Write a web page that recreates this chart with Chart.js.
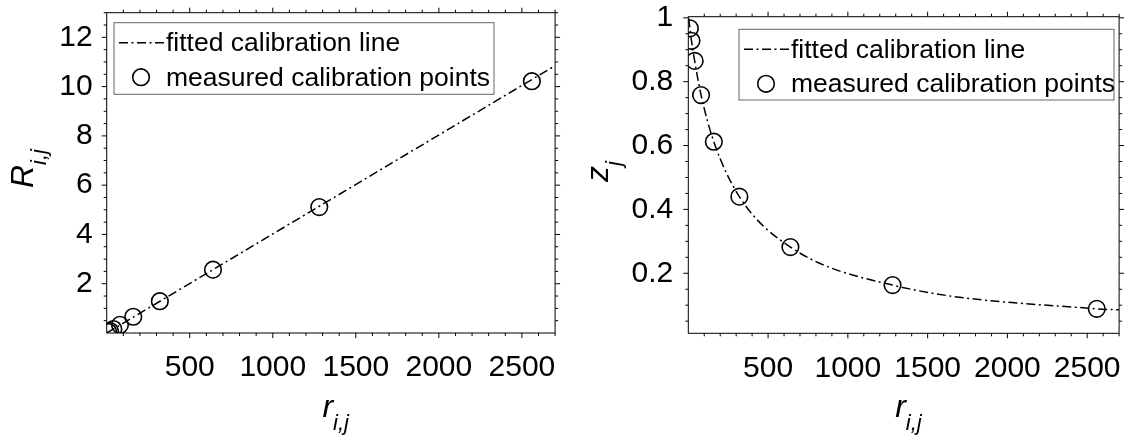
<!DOCTYPE html>
<html>
<head>
<meta charset="utf-8">
<script src="https://cdn.jsdelivr.net/npm/chart.js@4.4.0/dist/chart.umd.min.js"></script>
<style>
  body { margin: 0; background: #fff; }
  #wrap { position: relative; width: 1129px; height: 441px; }
  .box { position: absolute; top: 0; height: 441px; }
  #leftBox { left: 0; width: 565px; }
  #rightBox { left: 565px; width: 564px; }
</style>
</head>
<body>
<div id="wrap">
  <div class="box" id="leftBox"><canvas id="leftChart" width="565" height="441"></canvas></div>
  <div class="box" id="rightBox"><canvas id="rightChart" width="564" height="441"></canvas></div>
</div>
<script>
// measured calibration points (same r for both panels)
const rValues = [10, 20, 40, 80, 160, 320, 640, 1280, 2560];
const RValues = [0.04, 0.08, 0.16, 0.33, 0.66, 1.29, 2.57, 5.11, 10.22];
const zValues = [0.967, 0.928, 0.865, 0.758, 0.612, 0.44, 0.282, 0.163, 0.0886];

// fitted lines
const lineR = [0, 2700];
const lineRfit = [0, 10.85];
const curveR = [2, 10, 20, 40, 80, 160, 320, 640, 1280, 2560, 2700];
const curveZ = [0.998, 0.967, 0.928, 0.865, 0.758, 0.612, 0.44, 0.282, 0.163, 0.0886, 0.0855];

// ticks
const xTicks = [500, 1000, 1500, 2000, 2500];
const RTicks = [2, 4, 6, 8, 10, 12];
const zTicks = [0.2, 0.4, 0.6, 0.8, 1];

const legendLabels = ["fitted calibration line", "measured calibration points"];

const FONT = '"Liberation Sans", Arial, sans-serif';
const DASH = [9, 3.5, 2, 3.5];

const toXY = (xs, ys) => xs.map((x, i) => ({ x: x, y: ys[i] }));

// frame, outward ticks on all sides, axis titles with subscripts, legend box
const decorPlugin = {
  id: 'decor',
  afterDraw(chart, args, o) {
    const { ctx, chartArea: a } = chart;
    const xs = chart.scales.x, ys = chart.scales.y;
    ctx.save();
    ctx.strokeStyle = '#000';
    ctx.lineWidth = 1;
    ctx.strokeRect(a.left, a.top, a.right - a.left, a.bottom - a.top);

    ctx.beginPath();
    for (let i = 1; i * o.xMinor <= xs.max + 1e-9; i++) {
      const v = i * o.xMinor;
      const len = o.xMajor.some(m => Math.abs(m - v) < 1e-6) ? 5 : 3;
      const px = xs.getPixelForValue(v);
      ctx.moveTo(px, a.bottom); ctx.lineTo(px, a.bottom + len);
      ctx.moveTo(px, a.top); ctx.lineTo(px, a.top - len);
    }
    for (let i = 1; i * o.yMinor <= ys.max + 1e-9; i++) {
      const v = i * o.yMinor;
      if (v < ys.min) continue;
      const len = o.yMajor.some(m => Math.abs(m - v) < 1e-6) ? 5 : 3;
      const py = ys.getPixelForValue(v);
      ctx.moveTo(a.left, py); ctx.lineTo(a.left - len, py);
      ctx.moveTo(a.right, py); ctx.lineTo(a.right + len, py);
    }
    ctx.stroke();

    // axis titles
    ctx.fillStyle = '#000';
    drawSubText(ctx, 'r', 'i,j', (a.left + a.right) / 2 - 8.5, 417, false);
    drawSubText(ctx, o.yMain, o.ySub, o.yTitleX, o.yTitleY, true);

    // legend
    const L = o.legend;
    ctx.strokeStyle = '#666';
    ctx.strokeRect(L.x, L.y, L.w, L.h);
    const row1 = L.y + 20, row2 = L.y + 54.5;
    ctx.strokeStyle = '#000';
    ctx.lineWidth = 1.5;
    ctx.setLineDash(DASH);
    ctx.beginPath();
    ctx.moveTo(L.x + 5, row1); ctx.lineTo(L.x + 51, row1);
    ctx.stroke();
    ctx.setLineDash([]);
    ctx.lineWidth = 1.6;
    ctx.beginPath();
    ctx.arc(L.x + 27, row2, 8.3, 0, Math.PI * 2);
    ctx.stroke();
    ctx.font = '26.5px ' + FONT;
    ctx.textBaseline = 'middle';
    ctx.textAlign = 'left';
    ctx.fillText(chart.data.datasets[0].label, L.x + 52, row1 + 1);
    ctx.fillText(chart.data.datasets[1].label, L.x + 52, row2 + 1);
    ctx.restore();
  }
};

function drawSubText(ctx, main, sub, x, y, rotate) {
  ctx.save();
  ctx.translate(x, y);
  if (rotate) ctx.rotate(-Math.PI / 2);
  ctx.textBaseline = 'alphabetic';
  ctx.textAlign = 'left';
  ctx.font = 'italic 32px ' + FONT;
  ctx.fillText(main, 0, 0);
  const w = ctx.measureText(main).width;
  ctx.font = 'italic 22px ' + FONT;
  ctx.fillText(sub, w, 13);
  ctx.restore();
}

function makeChart(id, cfg) {
  return new Chart(document.getElementById(id), {
    type: 'scatter',
    data: {
      datasets: [{
        label: legendLabels[0],
        data: cfg.line,
        showLine: true,
        borderColor: '#000',
        borderWidth: 1.5,
        borderDash: DASH,
        pointRadius: 0,
        cubicInterpolationMode: 'monotone',
        order: 2
      }, {
        label: legendLabels[1],
        data: cfg.points,
        pointRadius: 8.3,
        pointBorderWidth: 1.6,
        pointBorderColor: '#000',
        pointBackgroundColor: 'rgba(0,0,0,0)',
        order: 1
      }]
    },
    options: {
      responsive: false,
      animation: false,
      events: [],
      layout: { padding: { top: cfg.top, right: cfg.right, left: 0, bottom: 0 } },
      plugins: { legend: { display: false }, tooltip: { enabled: false }, decor: cfg.decor },
      scales: {
        x: {
          type: 'linear', min: 0, max: 2700,
          grid: { display: false, drawTicks: false }, border: { display: false },
          afterFit: s => { s.height = cfg.bottomH; s.paddingLeft = 0; s.paddingRight = 0; },
          afterBuildTicks: s => { s.ticks = xTicks.map(v => ({ value: v })); },
          ticks: {
            font: { family: FONT, size: 30 }, color: '#000', padding: 17,
            maxRotation: 0, autoSkip: false, callback: v => String(v)
          }
        },
        y: {
          type: 'linear', min: cfg.yMin, max: cfg.yMax,
          grid: { display: false, drawTicks: false }, border: { display: false },
          afterFit: s => { s.width = cfg.leftW; s.paddingTop = 0; s.paddingBottom = 0; },
          afterBuildTicks: s => { s.ticks = cfg.yTicks.map(v => ({ value: v })); },
          ticks: {
            font: { family: FONT, size: 30 }, color: '#000', padding: cfg.yPad,
            autoSkip: false, callback: v => String(v)
          }
        }
      }
    },
    plugins: [decorPlugin]
  });
}

makeChart('leftChart', {
  line: toXY(lineR, lineRfit),
  points: toXY(rValues, RValues),
  yMin: 0, yMax: 13, yTicks: RTicks, yPad: 14,
  top: 12.7, right: 8.3, leftW: 106.7, bottomH: 108,
  decor: {
    xMinor: 100, xMajor: xTicks, yMinor: 0.5, yMajor: RTicks,
    yMain: 'R', ySub: 'i,j', yTitleX: 33, yTitleY: 188,
    legend: { x: 114, y: 22.7, w: 380, h: 71.6 }
  }
});

makeChart('rightChart', {
  line: toXY(curveR, curveZ),
  points: toXY(rValues, zValues),
  yMin: 0.012, yMax: 1.0035, yTicks: zTicks, yPad: 15,
  top: 16.7, right: 3.7, leftW: 123.3, bottomH: 107.7,
  decor: {
    xMinor: 100, xMajor: xTicks, yMinor: 0.05, yMajor: zTicks,
    yMain: 'z', ySub: 'j', yTitleX: 43, yTitleY: 182,
    legend: { x: 174, y: 29.3, w: 375, h: 70.7 }
  }
});
</script>
</body>
</html>
